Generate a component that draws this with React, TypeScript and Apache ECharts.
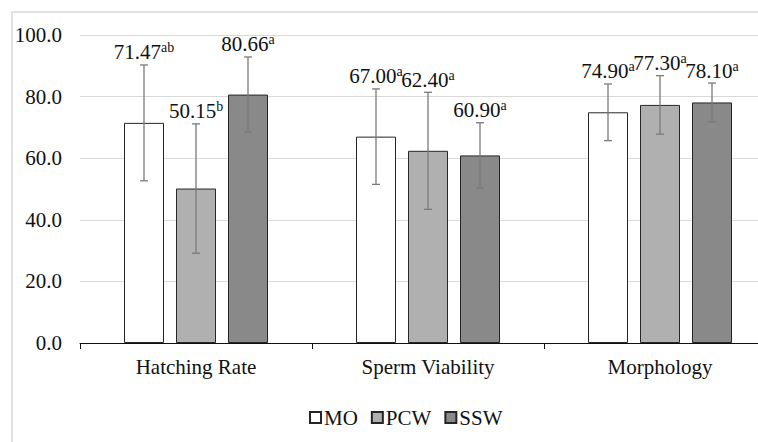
import React, { useEffect, useRef } from "react";
import * as echarts from "echarts";

const categories = ["Hatching Rate", "Sperm Viability", "Morphology"];
const groupNames = ["MO", "PCW", "SSW"];
const moValues = [71.47, 67.0, 74.9];
const pcwValues = [50.15, 62.4, 77.3];
const sswValues = [80.66, 60.9, 78.1];
const moSD = [18.8, 15.5, 9.2];
const pcwSD = [21.0, 19.0, 9.5];
const sswSD = [12.2, 10.6, 6.3];
const moLetters = ["ab", "a", "a"];
const pcwLetters = ["b", "a", "a"];
const sswLetters = ["a", "a", "a"];
const yTicks = [0, 20, 40, 60, 80, 100];

const FONT = "Times New Roman, Liberation Serif, DejaVu Serif, serif";
const BAR_WIDTH = 40;
const BAR_GAP = 12;

export default function App() {
  const ref = useRef<HTMLDivElement>(null);
  useEffect(() => {
    if (!ref.current) return;
    const chart = echarts.init(ref.current, null, { renderer: "svg" });
    const values = [moValues, pcwValues, sswValues];
    const sds = [moSD, pcwSD, sswSD];
    const letters = [moLetters, pcwLetters, sswLetters];
    const colors = ["#ffffff", "#b0b0b0", "#898989"];

    const barSeries = groupNames.map((name, i) => ({
      name,
      type: "bar",
      data: values[i],
      barWidth: BAR_WIDTH,
      barGap: (BAR_GAP / BAR_WIDTH) * 100 + "%",
      itemStyle: { color: colors[i], borderColor: "#262626", borderWidth: 1 },
      z: 2,
    }));

    const errSeries = groupNames.map((name, i) => ({
      name: name + "_err",
      type: "custom",
      z: 5,
      data: values[i].map((v, k) => [k, v, sds[i][k]]),
      renderItem: (params: any, api: any) => {
        const cat = api.value(0);
        const mean = api.value(1);
        const sd = api.value(2);
        const offset = (i - 1) * (BAR_WIDTH + BAR_GAP);
        const base = api.coord([cat, mean]);
        const x = base[0] + offset;
        const top = api.coord([cat, mean + sd])[1];
        const bot = api.coord([cat, mean - sd])[1];
        const cap = 4;
        const stroke = "#7a7a7a";
        const letter = letters[i][params.dataIndex];
        return {
          type: "group",
          children: [
            { type: "line", shape: { x1: x, y1: top, x2: x, y2: bot }, style: { stroke, lineWidth: 1.3 } },
            { type: "line", shape: { x1: x - cap, y1: top, x2: x + cap, y2: top }, style: { stroke, lineWidth: 1.3 } },
            { type: "line", shape: { x1: x - cap, y1: bot, x2: x + cap, y2: bot }, style: { stroke, lineWidth: 1.3 } },
            {
              type: "text",
              x,
              y: top - 1,
              style: {
                text: `{v|${mean.toFixed(2)}}{s|${letter}}`,
                align: "center",
                verticalAlign: "bottom",
                fontFamily: FONT,
                fontSize: 21,
                fill: "#111",
                rich: {
                  v: { fontSize: 21, fontFamily: FONT, fill: "#111", lineHeight: 23 },
                  s: { fontSize: 14, fontFamily: FONT, fill: "#111", lineHeight: 15, verticalAlign: "top" },
                },
              },
            },
          ],
        };
      },
    }));

    chart.setOption({
      animation: false,
      textStyle: { fontFamily: FONT },
      graphic: [
        {
          type: "rect",
          shape: { x: 12, y: 12, width: 800, height: 500 },
          style: { fill: "none", stroke: "#e2e2e2", lineWidth: 2 },
          z: -1,
        },
      ],
      grid: { left: 80, top: 35, width: 696, height: 308, outerBoundsMode: "none", containLabel: false },
      legend: {
        data: groupNames,
        left: 304,
        top: 402,
        itemWidth: 11,
        itemHeight: 11,
        itemGap: 13,
        icon: "rect",
        textStyle: { fontFamily: FONT, fontSize: 21, color: "#111", padding: [0, 0, 0, -2] },
      },
      xAxis: {
        type: "category",
        data: categories,
        axisLine: { lineStyle: { color: "#111", width: 1 } },
        axisTick: { show: true, length: 6, lineStyle: { color: "#111" } },
        axisLabel: { fontFamily: FONT, fontSize: 21, color: "#111", margin: 13 },
      },
      yAxis: {
        type: "value",
        min: yTicks[0],
        max: yTicks[yTicks.length - 1],
        interval: 20,
        axisLine: { show: false },
        axisTick: { show: false },
        splitLine: { lineStyle: { color: "#d9d9d9", width: 1 } },
        axisLabel: {
          fontFamily: FONT,
          fontSize: 21,
          color: "#111",
          margin: 18,
          formatter: (v: number) => v.toFixed(1),
        },
      },
      series: [...barSeries, ...errSeries],
    });
    return () => chart.dispose();
  }, []);
  return (
    <div
      ref={ref}
      style={{ position: "fixed", left: 0, top: 0, width: 758, height: 442, background: "#fff" }}
    />
  );
}
